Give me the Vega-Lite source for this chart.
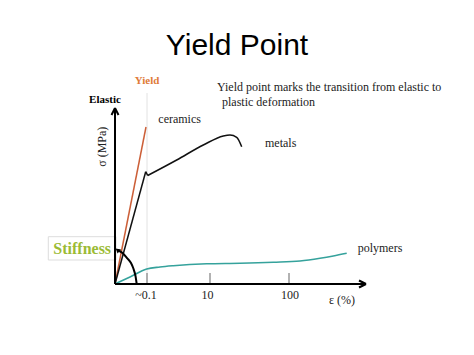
{
  "$schema": "https://vega.github.io/schema/vega-lite/v6.json",
  "width": 474,
  "height": 355,
  "autosize": {"type": "fit", "contains": "padding"},
  "padding": 0,
  "background": "white",
  "config": {"view": {"stroke": null}},
  "datasets": {
    "segs": [
      {"kind": "yield", "x": 32, "y": 0, "x2": 32, "y2": 191},
      {"kind": "axis", "x": 0, "y": 0, "x2": 0, "y2": 176},
      {"kind": "axis", "x": 0, "y": 0, "x2": 251, "y2": 0},
      {"kind": "arrow", "x": 0, "y": 176, "x2": -3.5, "y2": 169},
      {"kind": "arrow", "x": 0, "y": 176, "x2": 3.5, "y2": 169},
      {"kind": "arrow", "x": 251, "y": 0, "x2": 244, "y2": 3.5},
      {"kind": "arrow", "x": 251, "y": 0, "x2": 244, "y2": -3.5},
      {"kind": "tick", "x": 32, "y": 0, "x2": 32, "y2": 11},
      {"kind": "tick", "x": 95, "y": 0, "x2": 95, "y2": 11},
      {"kind": "tick", "x": 174, "y": 0, "x2": 174, "y2": 11},
      {"kind": "ceramics", "x": 0, "y": 0, "x2": 31, "y2": 157},
      {"kind": "metal", "x": 0, "y": 0, "x2": 30.7, "y2": 112.3},
      {"kind": "metal", "x": 30.7, "y": 112.3, "x2": 32.7, "y2": 108.5}
    ],
    "curves": [
      {"series": "metals", "o": 1, "x": 32.7, "y": 108.5},
      {"series": "metals", "o": 2, "x": 61.7, "y": 124},
      {"series": "metals", "o": 3, "x": 88.3, "y": 139},
      {"series": "metals", "o": 4, "x": 108.3, "y": 148},
      {"series": "metals", "o": 5, "x": 115, "y": 149},
      {"series": "metals", "o": 6, "x": 121.7, "y": 146.7},
      {"series": "metals", "o": 7, "x": 126.7, "y": 137.3},
      {"series": "polymers", "o": 1, "x": 0, "y": 0},
      {"series": "polymers", "o": 2, "x": 15, "y": 7},
      {"series": "polymers", "o": 3, "x": 31.7, "y": 15},
      {"series": "polymers", "o": 4, "x": 45, "y": 17},
      {"series": "polymers", "o": 5, "x": 58.3, "y": 18.3},
      {"series": "polymers", "o": 6, "x": 91.7, "y": 20.2},
      {"series": "polymers", "o": 7, "x": 125, "y": 20.7},
      {"series": "polymers", "o": 8, "x": 158.3, "y": 21.7},
      {"series": "polymers", "o": 9, "x": 185, "y": 23},
      {"series": "polymers", "o": 10, "x": 205, "y": 25.7},
      {"series": "polymers", "o": 11, "x": 218.3, "y": 28},
      {"series": "polymers", "o": 12, "x": 231.7, "y": 30.7},
      {"series": "stiffness", "o": 1, "x": 2.5, "y": 34},
      {"series": "stiffness", "o": 2, "x": 7.5, "y": 31},
      {"series": "stiffness", "o": 3, "x": 12.3, "y": 25.7},
      {"series": "stiffness", "o": 4, "x": 16, "y": 21},
      {"series": "stiffness", "o": 5, "x": 18.3, "y": 15.7},
      {"series": "stiffness", "o": 6, "x": 20.5, "y": 8},
      {"series": "stiffness", "o": 7, "x": 21.7, "y": 0}
    ],
    "texts": [
      {"kind": "title", "x": 122, "y": 229, "label": "Yield Point"},
      {"kind": "left", "x": 102, "y": 193.5, "label": "Yield point marks the transition from elastic to"},
      {"kind": "left", "x": 107, "y": 178, "label": "plastic deformation"},
      {"kind": "left", "x": 43.3, "y": 161, "label": "ceramics"},
      {"kind": "left", "x": 150, "y": 137.5, "label": "metals"},
      {"kind": "left", "x": 242.7, "y": 32.5, "label": "polymers"},
      {"kind": "left", "x": 214, "y": -20, "label": "ε (%)"},
      {"kind": "tick", "x": 31, "y": -14.5, "label": "~0.1"},
      {"kind": "tick", "x": 92.5, "y": -14.5, "label": "10"},
      {"kind": "tick", "x": 175, "y": -14.5, "label": "100"},
      {"kind": "sigma", "x": -13.3, "y": 137.3, "label": "σ (MPa)"},
      {"kind": "elastic", "x": -10, "y": 181, "label": "Elastic"},
      {"kind": "yieldlab", "x": 32, "y": 200.5, "label": "Yield"},
      {"kind": "stiff", "x": -61.7, "y": 29.7, "label": "Stiffness"}
    ],
    "boxes": [
      {"x": -66.7, "y": 24, "x2": 1, "y2": 47.3}
    ],
    "heads": [
      {"x": 2.5, "y": 34}
    ]
  },
  "encoding": {
    "x": {"field": "x", "type": "quantitative", "scale": {"domain": [-115, 359], "nice": false, "zero": false}, "axis": null},
    "y": {"field": "y", "type": "quantitative", "scale": {"domain": [-71, 284], "nice": false, "zero": false}, "axis": null}
  },
  "layer": [
    {
      "data": {"name": "boxes"},
      "mark": {"type": "rect", "fill": "white", "stroke": "#dddddd", "strokeWidth": 1},
      "encoding": {"x2": {"field": "x2"}, "y2": {"field": "y2"}}
    },
    {
      "data": {"name": "segs"},
      "transform": [{"filter": "datum.kind === 'yield'"}],
      "mark": {"type": "rule", "color": "#e2e2e2", "strokeWidth": 1},
      "encoding": {"x2": {"field": "x2"}, "y2": {"field": "y2"}}
    },
    {
      "data": {"name": "segs"},
      "transform": [{"filter": "datum.kind === 'tick'"}],
      "mark": {"type": "rule", "color": "#999999", "strokeWidth": 1.5},
      "encoding": {"x2": {"field": "x2"}, "y2": {"field": "y2"}}
    },
    {
      "data": {"name": "segs"},
      "transform": [{"filter": "datum.kind === 'ceramics'"}],
      "mark": {"type": "rule", "color": "#cc5f38", "strokeWidth": 1.5},
      "encoding": {"x2": {"field": "x2"}, "y2": {"field": "y2"}}
    },
    {
      "data": {"name": "segs"},
      "transform": [{"filter": "datum.kind === 'metal'"}],
      "mark": {"type": "rule", "color": "#111111", "strokeWidth": 1.5},
      "encoding": {"x2": {"field": "x2"}, "y2": {"field": "y2"}}
    },
    {
      "data": {"name": "curves"},
      "transform": [{"filter": "datum.series === 'metals'"}],
      "mark": {"type": "line", "color": "#111111", "strokeWidth": 1.5, "interpolate": "monotone"},
      "encoding": {"order": {"field": "o", "type": "quantitative"}}
    },
    {
      "data": {"name": "curves"},
      "transform": [{"filter": "datum.series === 'polymers'"}],
      "mark": {"type": "line", "color": "#35a29c", "strokeWidth": 1.6, "interpolate": "monotone"},
      "encoding": {"order": {"field": "o", "type": "quantitative"}}
    },
    {
      "data": {"name": "curves"},
      "transform": [{"filter": "datum.series === 'stiffness'"}],
      "mark": {"type": "line", "color": "#000000", "strokeWidth": 2, "interpolate": "monotone"},
      "encoding": {"order": {"field": "o", "type": "quantitative"}}
    },
    {
      "data": {"name": "heads"},
      "mark": {"type": "point", "shape": "triangle-up", "filled": true, "color": "#000000", "size": 30, "angle": 310, "opacity": 1}
    },
    {
      "data": {"name": "segs"},
      "transform": [{"filter": "datum.kind === 'axis' || datum.kind === 'arrow'"}],
      "mark": {"type": "rule", "color": "#000000", "strokeWidth": 2},
      "encoding": {"x2": {"field": "x2"}, "y2": {"field": "y2"}}
    },
    {
      "data": {"name": "texts"},
      "transform": [{"filter": "datum.kind === 'title'"}],
      "mark": {"type": "text", "font": "Liberation Sans", "fontSize": 30, "align": "center", "baseline": "alphabetic", "color": "#000000"},
      "encoding": {"text": {"field": "label"}}
    },
    {
      "data": {"name": "texts"},
      "transform": [{"filter": "datum.kind === 'left'"}],
      "mark": {"type": "text", "font": "Liberation Serif", "fontSize": 12, "align": "left", "baseline": "alphabetic", "color": "#222222"},
      "encoding": {"text": {"field": "label"}}
    },
    {
      "data": {"name": "texts"},
      "transform": [{"filter": "datum.kind === 'tick'"}],
      "mark": {"type": "text", "font": "Liberation Serif", "fontSize": 12, "align": "center", "baseline": "alphabetic", "color": "#222222"},
      "encoding": {"text": {"field": "label"}}
    },
    {
      "data": {"name": "texts"},
      "transform": [{"filter": "datum.kind === 'sigma'"}],
      "mark": {"type": "text", "font": "Liberation Serif", "fontSize": 12, "align": "center", "baseline": "middle", "angle": 270, "color": "#222222"},
      "encoding": {"text": {"field": "label"}}
    },
    {
      "data": {"name": "texts"},
      "transform": [{"filter": "datum.kind === 'elastic'"}],
      "mark": {"type": "text", "font": "Liberation Serif", "fontSize": 11, "fontWeight": "bold", "align": "center", "baseline": "alphabetic", "color": "#000000"},
      "encoding": {"text": {"field": "label"}}
    },
    {
      "data": {"name": "texts"},
      "transform": [{"filter": "datum.kind === 'yieldlab'"}],
      "mark": {"type": "text", "font": "Liberation Serif", "fontSize": 11, "fontWeight": "bold", "align": "center", "baseline": "alphabetic", "color": "#e07b39"},
      "encoding": {"text": {"field": "label"}}
    },
    {
      "data": {"name": "texts"},
      "transform": [{"filter": "datum.kind === 'stiff'"}],
      "mark": {"type": "text", "font": "Liberation Serif", "fontSize": 16, "fontWeight": "bold", "align": "left", "baseline": "alphabetic", "color": "#9bbb35"},
      "encoding": {"text": {"field": "label"}}
    }
  ]
}
